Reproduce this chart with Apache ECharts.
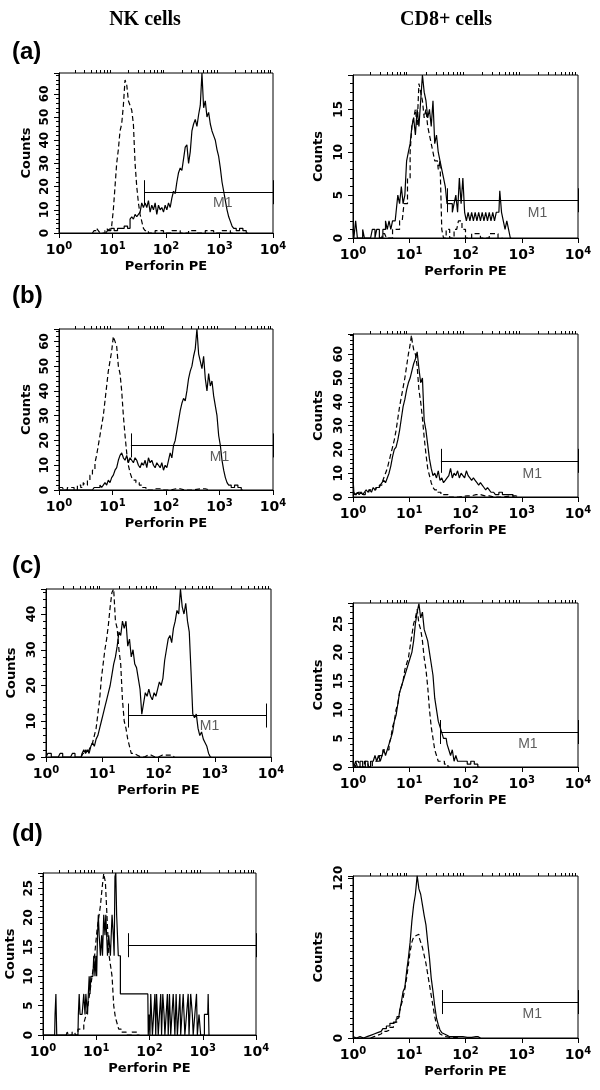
<!DOCTYPE html>
<html><head><meta charset="utf-8">
<script src="https://cdn.jsdelivr.net/npm/echarts@6/dist/echarts.min.js"></script>
<style>html,body{margin:0;padding:0;background:#fff}#c{width:600px;height:1090px}</style>
</head><body><div id="c"></div>
<script>
// x axis: instrument channel (64 channels per decade, 10^0 .. 10^4)
const xTickChannels = [0, 64, 128, 192, 256];
const xTickExponents = ['0', '1', '2', '3', '4'];
const columnTitles = ['NK cells', 'CD8+ cells'];
const rowLabels = ['(a)', '(b)', '(c)', '(d)'];
const yMaxes = [69, 19, 65, 68.5, 47, 28.6, 27.6, 121.7];
const yIntervals = [10, 5, 10, 10, 10, 5, 5, 120];

// [channel, counts]  solid = perforin stain, ctrl = isotype control (dashed)
const nkA_solid = [[56,0],[60,1],[64,2],[68,1],[72,2],[76,2],[80,3],[84,2],[86,6],[88,7],[90,6],[92,8],[94,7],[96,8],[98,9],[100,13],[102,11],[104,13],[106,11],[108,14],[110,9],[112,12],[114,10],[116,13],[118,8],[120,12],[122,10],[124,11],[126,9],[128,12],[130,10],[132,13],[134,11],[136,15],[138,18],[140,17],[142,22],[144,26],[146,28],[148,27],[150,32],[152,37],[154,38],[156,30],[158,35],[160,44],[162,47],[164,49],[166,46],[168,51],[170,55],[172,69],[174,54],[176,57],[178,50],[180,52],[182,47],[184,44],[186,42],[188,40],[190,36],[192,33],[194,28],[196,22],[198,18],[200,14],[202,10],[204,7],[206,5],[208,3],[210,2],[214,1],[218,2],[222,1],[226,0]];
const nkA_ctrl = [[40,0],[44,1],[46,2],[48,1],[50,0],[54,0],[56,1],[58,2],[60,1],[62,2],[64,3],[66,10],[68,20],[70,30],[72,36],[74,44],[76,47],[78,55],[80,66],[82,64],[84,57],[86,55],[88,53],[90,47],[92,30],[94,20],[96,13],[98,8],[100,5],[102,2],[104,1],[110,0],[120,1],[130,0],[140,1],[150,0],[160,1],[170,0],[180,1],[190,0],[200,1],[210,0]];
const cd8A_solid = [[0,1],[2,0],[4,2],[6,0],[10,0],[12,1],[14,0],[20,0],[24,1],[26,0],[28,1],[32,0],[36,1],[38,2],[40,1],[42,2],[44,1],[46,2],[48,2],[50,3],[52,5],[54,4],[56,6],[58,4],[60,5],[62,9],[64,10],[66,11],[68,13],[70,14],[72,12],[74,15],[76,13],[78,16],[80,19],[82,17],[84,16],[86,14],[88,15],[90,13],[92,16],[94,11],[96,12],[98,10],[100,9],[102,8],[104,7],[106,6],[108,4],[110,4],[112,4],[114,3],[116,4],[118,5],[120,3],[122,7],[124,4],[126,7],[128,3],[130,2],[132,3],[134,2],[136,3],[138,2],[140,3],[142,2],[144,3],[146,2],[148,3],[150,2],[152,3],[154,2],[156,3],[158,2],[160,3],[162,2],[164,3],[166,3],[168,5.5],[170,3],[172,2],[174,1],[176,2],[178,1],[180,0]];
const cd8A_ctrl = [[30,0],[36,0.5],[40,0],[50,1],[56,2],[60,4],[64,7],[66,10],[68,13],[70,14],[72,15],[74,13],[76,18],[78,17],[80,16],[82,14],[84,15],[86,13],[88,12],[90,11],[92,10],[94,9],[96,9],[98,8],[100,9],[102,1],[104,0],[108,1],[112,0],[118,1],[122,2],[126,1],[130,0],[140,0.5],[150,0],[160,0.5],[170,0]];
const nkB_solid = [[0,1],[2,0],[40,0],[44,1],[48,1],[50,2],[52,1],[54,2],[56,3],[58,2],[60,4],[62,3],[64,5],[66,6],[68,8],[70,9],[72,12],[74,14],[76,15],[78,13],[80,12],[82,14],[84,11],[86,13],[88,12],[90,11],[92,13],[94,12],[96,10],[98,9],[100,11],[102,10],[104,12],[106,9],[108,13],[110,11],[112,12],[114,10],[116,9],[118,11],[120,10],[122,9],[124,11],[126,8],[128,10],[130,9],[132,12],[134,15],[136,13],[138,18],[140,20],[142,24],[144,28],[146,32],[148,35],[150,37],[152,36],[154,40],[156,45],[158,48],[160,50],[162,54],[164,57],[166,65],[168,55],[170,52],[172,49],[174,54],[176,45],[178,40],[180,47],[182,42],[184,44],[186,38],[188,34],[190,30],[192,22],[194,18],[196,12],[198,8],[200,5],[202,3],[204,2],[208,1],[212,2],[216,1],[220,0]];
const nkB_ctrl = [[0,1],[4,1],[8,0],[12,1],[16,1],[20,0],[24,2],[28,1],[30,3],[32,2],[36,4],[38,6],[42,8],[44,11],[46,14],[48,18],[50,22],[52,26],[54,30],[56,36],[58,42],[60,48],[62,52],[64,56],[66,62],[68,60],[70,58],[72,50],[74,47],[76,40],[78,30],[80,22],[82,15],[84,10],[86,7],[88,5],[90,4],[94,3],[98,2],[102,1],[106,0],[116,0.5],[126,0],[140,0.5],[150,0],[170,0.5],[180,0]];
const cd8B_solid = [[0,8],[2,2],[4,1],[6,2],[8,1],[10,2],[12,1],[14,2],[16,3],[18,2],[20,3],[22,2],[24,4],[26,3],[28,4],[30,4],[32,5],[34,6],[36,7],[38,6],[40,8],[42,10],[44,13],[46,17],[48,20],[50,21],[52,24],[54,28],[56,33],[58,38],[60,41],[62,45],[64,48],[66,50],[68,53],[70,56],[72,58],[74,61],[76,54],[78,48],[80,50],[82,32],[84,28],[86,22],[88,16],[90,12],[92,9],[94,10],[96,8],[98,11],[100,7],[102,8],[104,6],[106,7],[108,8],[110,9],[112,12],[114,8],[116,10],[118,9],[120,11],[122,8],[124,10],[126,9],[128,8],[130,11],[132,9],[134,8],[136,7],[138,8],[140,7],[142,6],[144,5],[146,6],[148,5],[150,4],[152,3],[154,4],[156,3],[158,2],[160,2],[164,1],[168,2],[172,1],[176,1],[180,1],[184,0]];
const cd8B_ctrl = [[0,2],[4,1],[8,2],[12,1],[16,2],[20,3],[24,3],[28,4],[32,5],[34,6],[36,8],[38,10],[40,12],[42,15],[44,18],[46,21],[48,24],[50,28],[52,33],[54,38],[56,42],[58,46],[60,50],[62,55],[64,60],[66,64],[67,68],[68,65],[70,62],[72,60],[74,55],[76,45],[78,40],[80,33],[82,25],[84,18],[86,12],[88,9],[90,6],[92,4],[94,3],[98,2],[102,1],[106,1],[110,0],[130,0.5],[140,1],[150,0.5],[160,0],[180,0.5],[190,0]];
const nkC_solid = [[0,0],[4,1],[8,0],[14,0],[18,1],[20,0],[28,0],[32,1],[34,0],[40,0],[42,1],[44,2],[46,1],[48,2],[50,1],[52,3],[54,4],[56,3],[58,5],[60,6],[62,8],[64,10],[66,12],[68,14],[70,16],[72,18],[74,20],[76,23],[78,26],[80,28],[82,31],[84,35],[86,34],[88,38],[90,36],[92,38],[94,31],[96,33],[98,28],[100,30],[102,26],[104,25],[106,22],[108,19],[110,12],[112,15],[114,18],[116,17],[118,19],[120,17],[122,16],[124,18],[126,17],[128,19],[130,21],[132,20],[134,22],[136,27],[138,30],[140,33],[142,34],[144,32],[146,36],[148,38],[150,41],[152,40],[154,47],[156,42],[158,40],[160,43],[162,38],[164,35],[166,24],[168,12],[170,11],[172,12],[174,8],[176,6],[178,7],[180,5],[182,4],[184,3],[186,1],[188,0]];
const nkC_ctrl = [[40,0],[44,1],[46,2],[48,1],[50,2],[52,3],[54,4],[56,6],[58,8],[60,12],[62,16],[64,22],[66,26],[68,30],[70,33],[72,37],[74,42],[76,46],[78,47],[80,38],[82,36],[84,30],[86,26],[88,16],[90,10],[92,8],[94,5],[96,3],[98,1],[100,1],[104,0.5],[108,0],[116,0.5],[124,0],[132,0.5],[140,0.5],[146,0]];
const cd8C_solid = [[0,1],[2,0],[4,1],[6,0],[10,1],[12,0],[16,1],[18,0],[22,1],[24,1],[26,2],[28,1],[30,2],[32,1],[34,2],[36,3],[38,2],[40,3],[42,4],[44,5],[46,6],[48,8],[50,9],[52,11],[54,13],[56,14],[58,15],[60,16],[62,17],[64,18],[66,19],[68,20],[70,22],[72,25],[74,27],[76,28.5],[78,26],[80,27],[82,24],[84,23],[86,22],[88,20],[90,18],[92,16],[94,12],[96,10],[98,8],[100,7],[102,6],[104,5],[106,5],[108,4],[110,3],[112,2],[114,3],[116,1],[118,2],[120,1],[124,1],[128,1],[132,0.5],[136,1],[140,0.5],[144,0]];
const cd8C_ctrl = [[0,0],[6,1],[10,0],[16,1],[20,0],[24,1],[28,1],[32,2],[36,3],[40,3],[42,4],[44,5],[46,7],[48,8],[50,10],[52,11],[54,13],[56,14],[58,15],[60,17],[62,18],[64,19],[66,21],[68,23],[70,25],[72,26],[74,27.5],[76,25],[78,24],[80,22],[82,19],[84,17],[86,14],[88,10],[90,7],[92,5],[94,3],[96,2],[98,1],[102,1],[106,0.5],[110,0]];
const nkD_solid = [[0,0],[14,0],[15,3.5],[16,7],[17,0],[42,0],[43,3.5],[44,7],[45,3.5],[46,3.5],[48,3.5],[50,7],[51,3.5],[52,7],[53,7],[54,3.5],[55,7],[56,10],[57,7],[58,10],[60,10],[62,13.5],[63,10],[64,13.5],[65,10],[66,17],[67,20.5],[68,17],[70,13.5],[71,17],[72,13.5],[74,20.5],[75,17],[76,20.5],[77,17],[78,13.5],[80,17],[82,13.5],[84,20.5],[85,17],[86,13.5],[87,27],[88,27.6],[89,20.5],[90,20.5],[91,13.5],[92,13.5],[94,7],[126,7],[127,0],[128,3.5],[129,0],[130,7],[131,3.5],[132,0],[134,3.5],[135,7],[136,0],[137,7],[138,3.5],[139,0],[141,3.5],[142,7],[143,0],[145,7],[146,3.5],[147,0],[149,3.5],[150,7],[151,0],[153,7],[154,0],[156,3.5],[157,7],[158,3.5],[159,0],[161,7],[162,0],[164,3.5],[165,7],[166,0],[168,3.5],[169,7],[170,7],[171,0],[174,3.5],[175,7],[176,0],[179,7],[180,3.5],[181,0],[184,3.5],[185,7],[186,0],[189,3.5],[190,0],[198,3.5],[199,7],[200,0]];
const nkD_ctrl = [[28,0],[30,0.5],[32,0],[38,0.5],[40,0],[44,1],[48,1],[50,2],[52,3],[54,4],[56,6],[58,8],[60,10],[62,12],[64,15],[66,18],[68,20],[70,22],[72,25],[74,27.5],[76,26],[78,20],[80,14],[82,12],[84,10],[86,5],[88,3],[90,2],[92,1],[96,0.5],[104,0],[110,0.5],[116,0]];
const cd8D_solid = [[0,1],[4,0],[8,1],[12,0],[16,1],[20,2],[24,3],[28,4],[32,5],[36,7],[40,9],[44,11],[48,12],[50,14],[52,15],[54,20],[56,27],[58,35],[60,38],[62,50],[64,60],[66,72],[68,88],[70,100],[72,108],[74,122],[76,112],[78,108],[80,100],[82,92],[84,85],[86,72],[88,60],[90,45],[92,35],[94,24],[96,15],[98,10],[100,6],[102,4],[104,3],[106,2],[108,1.5],[110,1],[120,1],[130,0.5],[140,1],[145,0]];
const cd8D_ctrl = [[20,0],[24,1],[28,2],[32,3],[36,5],[40,6],[44,8],[48,12],[52,16],[54,20],[56,25],[58,30],[60,37],[62,45],[64,55],[66,65],[68,72],[70,76],[72,77],[74,78],[76,76],[78,72],[80,68],[82,62],[84,56],[86,48],[88,40],[90,32],[92,24],[94,16],[96,10],[98,6],[100,3],[102,2],[106,1],[110,0.5],[120,0]];

// M1 gates: [from channel, to channel, counts level]
const nkA_gate = [102, 256, 17.6];
const cd8A_gate = [107, 256, 4.4];
const nkB_gate = [86, 256, 18];
const cd8B_gate = [100, 256, 15.2];
const nkC_gate = [94, 251, 11.6];
const cd8C_gate = [99, 256, 6.1];
const nkD_gate = [102, 256, 15.3];
const cd8D_gate = [102, 256, 27];
// M1 text anchors [channel, counts]
const nkA_m1 = [196, 12.8];
const cd8A_m1 = [210, 2.85];
const nkB_m1 = [192, 13.3];
const cd8B_m1 = [204, 9.8];
const nkC_m1 = [186, 8.6];
const cd8C_m1 = [199, 4];
const nkD_m1 = null;
const cd8D_m1 = [204, 18];

const panels = [
  {s: nkA_solid, c: nkA_ctrl, g: nkA_gate, m: nkA_m1, box: [59, 73, 214, 160], ng: 26},
  {s: cd8A_solid, c: cd8A_ctrl, g: cd8A_gate, m: cd8A_m1, box: [353, 75, 225, 163], ng: 28},
  {s: nkB_solid, c: nkB_ctrl, g: nkB_gate, m: nkB_m1, box: [59, 329, 214, 161], ng: 26},
  {s: cd8B_solid, c: cd8B_ctrl, g: cd8B_gate, m: cd8B_m1, box: [353, 334, 225, 163], ng: 28},
  {s: nkC_solid, c: nkC_ctrl, g: nkC_gate, m: nkC_m1, box: [46, 589, 225, 168], ng: 28},
  {s: cd8C_solid, c: cd8C_ctrl, g: cd8C_gate, m: cd8C_m1, box: [353, 603, 225, 164], ng: 28},
  {s: nkD_solid, c: nkD_ctrl, g: nkD_gate, m: nkD_m1, box: [43, 873, 213, 162], ng: 26},
  {s: cd8D_solid, c: cd8D_ctrl, g: cd8D_gate, m: cd8D_m1, box: [353, 876, 225, 162], ng: 28}
];

const minorX = [];
for (let d = 0; d < 4; d++) for (let k = 2; k <= 9; k++) minorX.push(64 * (d + Math.log10(k)));

const AX = 'DejaVu Sans';
const option = {animation: false, backgroundColor: '#fff', grid: [], xAxis: [], yAxis: [], series: [], graphic: []};

panels.forEach((p, i) => {
  const ymax = yMaxes[i], yint = yIntervals[i];
  option.grid.push({left: p.box[0], top: p.box[1], width: p.box[2], height: p.box[3], show: true, borderColor: '#000', borderWidth: 1, containLabel: false});
  option.xAxis.push({
    type: 'value', gridIndex: i, min: xTickChannels[0], max: xTickChannels[4], interval: 64,
    axisLine: {show: true, lineStyle: {color: '#000', width: 1}},
    axisTick: {show: true, length: 5, lineStyle: {color: '#000'}},
    splitLine: {show: false},
    axisLabel: {
      margin: 8, color: '#000',
      formatter: v => { const k = xTickChannels.indexOf(v); return k < 0 ? '' : '{b|10}{s|' + xTickExponents[k] + '}'; },
      rich: {
        b: {fontFamily: AX, fontWeight: 'bold', fontSize: 14, color: '#000'},
        s: {fontFamily: AX, fontWeight: 'bold', fontSize: 10, color: '#000', padding: [0, 0, 9, 0]}
      }
    },
    name: 'Perforin PE', nameLocation: 'middle', nameGap: 27,
    nameTextStyle: {fontFamily: AX, fontWeight: 'bold', fontSize: 13, color: '#000'}
  });
  option.xAxis.push({
    type: 'value', gridIndex: i, min: 0, max: 256,
    axisLine: {show: false}, axisLabel: {show: false}, splitLine: {show: false},
    axisTick: {show: true, length: 3, customValues: minorX, lineStyle: {color: '#000'}}
  });
  option.yAxis.push({
    type: 'value', gridIndex: i, min: 0, max: ymax, interval: yint,
    axisLine: {show: true, lineStyle: {color: '#000', width: 1}},
    axisTick: {show: true, length: 5, lineStyle: {color: '#000'}},
    minorTick: {show: true, splitNumber: yint === 120 ? 24 : 5, length: 3, lineStyle: {color: '#000'}},
    splitLine: {show: false}, minorSplitLine: {show: false},
    axisLabel: {rotate: 90, margin: 8, color: '#000', fontFamily: AX, fontWeight: 'bold', fontSize: 12,
      formatter: v => (Math.abs(v / yint - Math.round(v / yint)) < 1e-6 ? String(v) : '')},
    name: 'Counts', nameLocation: 'middle', nameGap: p.ng, nameRotate: 90,
    nameTextStyle: {fontFamily: AX, fontWeight: 'bold', fontSize: 13, color: '#000'}
  });
  const xi = 2 * i;
  option.series.push({type: 'line', xAxisIndex: xi, yAxisIndex: i, data: p.c, step: 'middle', showSymbol: false, symbol: 'none', silent: true,
    lineStyle: {color: '#000', width: 1.2, type: [5, 3]}, z: 2});
  option.series.push({type: 'line', xAxisIndex: xi, yAxisIndex: i, data: p.s, step: 'middle', showSymbol: false, symbol: 'none', silent: true,
    lineStyle: {color: '#000', width: 1.2}, z: 3});
  const cap = 12 * ymax / p.box[3];
  const [lo, hi, lv] = p.g;
  option.series.push({type: 'lines', coordinateSystem: 'cartesian2d', xAxisIndex: xi, yAxisIndex: i, silent: true, z: 4,
    lineStyle: {color: '#000', width: 1, opacity: 1},
    data: [{coords: [[lo, lv], [hi, lv]]}, {coords: [[lo, lv - cap], [lo, lv + cap]]}, {coords: [[hi, lv - cap], [hi, lv + cap]]}]});
  if (p.m) {
    option.series.push({type: 'scatter', xAxisIndex: xi, yAxisIndex: i, data: [p.m], symbolSize: 1, silent: true, z: 5,
      itemStyle: {color: 'rgba(0,0,0,0)'},
      label: {show: true, position: 'inside', formatter: 'M1', fontFamily: 'Liberation Sans', fontSize: 14, color: '#333'}});
  }
});

option.graphic.push({type: 'text', x: 145, y: 20, style: {text: columnTitles[0], font: 'bold 20px "Liberation Serif"', fill: '#000', align: 'center', verticalAlign: 'middle', textAlign: 'center', textVerticalAlign: 'middle'}});
option.graphic.push({type: 'text', x: 446, y: 20, style: {text: columnTitles[1], font: 'bold 20px "Liberation Serif"', fill: '#000', align: 'center', verticalAlign: 'middle', textAlign: 'center', textVerticalAlign: 'middle'}});
const rowY = [52, 296, 566, 834];
rowLabels.forEach((t, k) => option.graphic.push({type: 'text', x: 12, y: rowY[k], style: {text: t, font: 'bold 24px "Liberation Sans"', fill: '#000', align: 'left', verticalAlign: 'middle', textAlign: 'left', textVerticalAlign: 'middle'}}));

const chart = echarts.init(document.getElementById('c'), null, {renderer: 'canvas'});
chart.setOption(option);
</script></body></html>
